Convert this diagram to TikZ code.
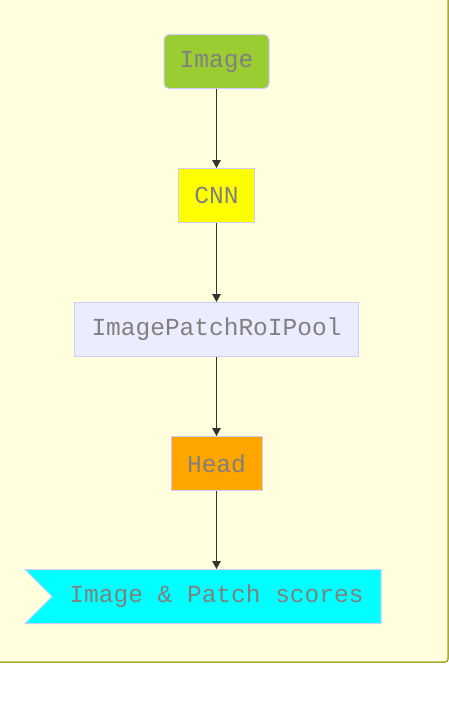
\documentclass[tikz,border=0pt]{standalone}
\usepackage{fontspec}
\setmonofont{Liberation Mono}
\usepackage{tikz}
\usetikzlibrary{arrows.meta,positioning,shapes.symbols}
\definecolor{bgyellow}{HTML}{FFFFDE}
\definecolor{bgedge}{HTML}{AAAA33}
\definecolor{boxedge}{HTML}{CCCCFF}
\definecolor{lavender}{HTML}{ECECFF}
\definecolor{textgray}{HTML}{808080}
\definecolor{imggreen}{HTML}{9ACD32}
\definecolor{cnnyellow}{HTML}{FFFF00}
\definecolor{headorange}{HTML}{FFA500}
\definecolor{scorecyan}{HTML}{00FFFF}
\definecolor{linegray}{HTML}{333333}

\begin{document}
\begin{tikzpicture}[x=1pt,y=-1pt,
    box/.style={draw=boxedge,line width=1pt,text=textgray,
        font=\ttfamily\fontsize{24.5}{26}\selectfont,
        minimum height=54pt,inner xsep=10pt},
    flow/.style={draw=linegray,line width=1.3pt,-{Triangle[length=8pt,width=8.5pt]}}]
    \useasboundingbox (0,0) rectangle (449,724);

    % Cluster background
    \draw[fill=bgyellow,draw=bgedge,line width=1.5pt,rounded corners=3pt]
        (-10,-10) rectangle (448,662);

    % Pipeline nodes
    \node[box,fill=imggreen,rounded corners=5pt,minimum width=105pt] (image) at (216.5,61.5) {Image};
    \node[box,fill=cnnyellow,minimum width=76pt,below=79pt of image] (cnn) {CNN};
    \node[box,fill=lavender,minimum width=284pt,below=79pt of cnn] (roipool) {ImagePatchRoIPool};
    \node[box,fill=headorange,minimum width=91pt,below=79pt of roipool] (head) {Head};
    \node[box,fill=scorecyan,signal,signal from=west,signal to=nowhere,
        minimum width=356pt,below=78pt of head] (scores) {Image \& Patch scores};

    % Connectors
    \draw[flow] (image) -- (cnn);
    \draw[flow] (cnn) -- (roipool);
    \draw[flow] (roipool) -- (head);
    \draw[flow] (head) -- (scores);
\end{tikzpicture}
\end{document}
